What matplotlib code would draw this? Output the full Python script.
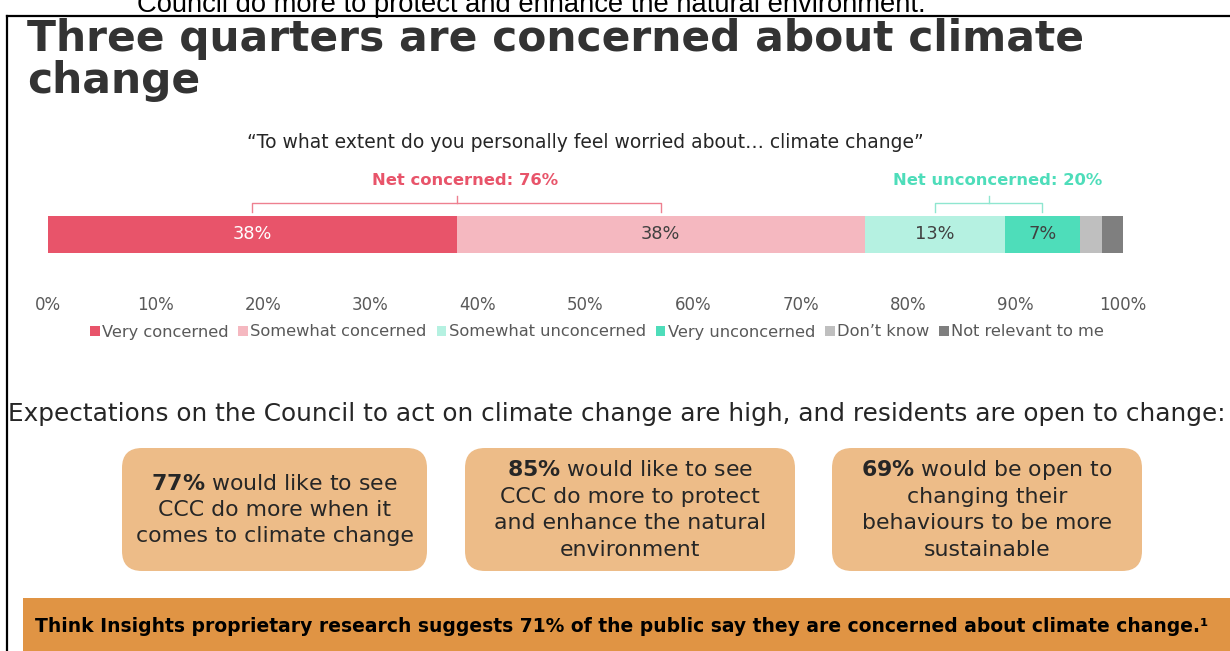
import matplotlib.pyplot as plt
from matplotlib.patches import FancyBboxPatch, Rectangle
from matplotlib.lines import Line2D

plt.rcParams['font.family'] = ['DejaVu Sans']

# Survey responses (percent)
categories = ["Very concerned", "Somewhat concerned", "Somewhat unconcerned",
              "Very unconcerned", "Don\u2019t know", "Not relevant to me"]
values = [38, 38, 13, 7, 2, 2]
colors = ["#E8546A", "#F5B8C0", "#B5F1E1", "#4EDDBA", "#BFBFBF", "#7F7F7F"]
label_colors = ["white", "#404040", "#404040", "#404040", None, None]
ticks = [0, 10, 20, 30, 40, 50, 60, 70, 80, 90, 100]

# Follow-up findings shown in the boxes
box_pcts = [77, 85, 69]
box_texts = [
    ["{} would like to see", "CCC do more when it", "comes to climate change"],
    ["{} would like to see", "CCC do more to protect", "and enhance the natural", "environment"],
    ["{} would be open to", "changing their", "behaviours to be more", "sustainable"],
]
public_pct = 71

W, H = 1230, 651
fig = plt.figure(figsize=(W / 100, H / 100), dpi=100)

# background layer in pixel units
bg = fig.add_axes([0, 0, 1, 1])
bg.set_xlim(0, W)
bg.set_ylim(H, 0)
bg.axis("off")

bg.text(531, 12, "Council do more to protect and enhance the natural environment.",
        family="Liberation Sans", fontsize=19.7, ha="center", va="baseline", color="black")

# frame
bg.add_line(Line2D([7, 7], [16, H], color="black", lw=1.6))
bg.add_line(Line2D([7, W], [16, 16], color="black", lw=1.6))

bg.text(27, 51, "Three quarters are concerned about climate", fontsize=30.5,
        fontweight="bold", color="#333333", va="baseline")
bg.text(27, 93, "change", fontsize=30.5, fontweight="bold", color="#333333", va="baseline")

bg.text(585, 142, "\u201cTo what extent do you personally feel worried about\u2026 climate change\u201d",
        fontsize=13.5, color="#262626", ha="center", va="center")

bg.text(8, 414, "Expectations on the Council to act on climate change are high, "
        "and residents are open to change:", fontsize=17.8, color="#262626", va="center")

# finding boxes
box_x = [(122, 427), (465, 795), (832, 1142)]
for (x0, x1), pct, lines in zip(box_x, box_pcts, box_texts):
    bg.add_patch(FancyBboxPatch((x0, 448), x1 - x0, 123,
                                boxstyle="round,pad=0,rounding_size=20",
                                facecolor="#EDBC88", edgecolor="none"))
    n = len(lines)
    cy = 510
    step = 26.5
    for i, ln in enumerate(lines):
        txt = ln.format(r"$\bf{%d\%%}$" % pct) if "{}" in ln else ln
        bg.text((x0 + x1) / 2, cy + (i - (n - 1) / 2) * step, txt, fontsize=15.8,
                color="#262626", ha="center", va="center")

# bottom banner
bg.add_patch(Rectangle((23, 598), W - 23, H - 598, facecolor="#E09444", edgecolor="none"))
bg.text(35, 627, "Think Insights proprietary research suggests %d%% of the public say "
        "they are concerned about climate change.\u00b9" % public_pct,
        fontsize=13.5, fontweight="bold", color="black", va="center")

# stacked bar
ax = fig.add_axes([48 / W, 1 - 290 / H, 1075 / W, 130 / H])
ax.set_xlim(0, 100)
ax.set_ylim(-1.5, 2.01)
left = 0
handles = []
for cat, v, c, lc in zip(categories, values, colors, label_colors):
    b = ax.barh(0, v, left=left, height=1, color=c, label=cat)
    handles.append(b)
    if lc is not None:
        ax.text(left + v / 2, 0, "%d%%" % v, ha="center", va="center",
                fontsize=12.8, color=lc)
    left += v

starts = [sum(values[:i]) for i in range(len(values))]


def bracket(i0, i1, color, text, tcolor):
    a = starts[i0] + values[i0] / 2
    b = starts[i1] + values[i1] / 2
    mid = starts[i1] if values[i0] == values[i1] else (a + b) / 2
    ax.plot([a, a, b, b], [0.61, 0.85, 0.85, 0.61], color=color, lw=1, clip_on=False)
    ax.plot([mid, mid], [0.85, 1.04], color=color, lw=1, clip_on=False)
    ax.text(mid + 0.8, 1.45, text, ha="center", va="center", fontsize=11.8,
            fontweight="bold", color=tcolor)


bracket(0, 1, "#EE8090", "Net concerned: %d%%" % (values[0] + values[1]), "#E8546A")
bracket(2, 3, "#8FE6D0", "Net unconcerned: %d%%" % (values[2] + values[3]), "#4EDDBA")

ax.set_xticks(ticks)
ax.set_xticklabels(["%d%%" % t for t in ticks])
ax.tick_params(axis="x", length=0, pad=4, labelsize=12, labelcolor="#595959")
ax.set_yticks([])
for s in ax.spines.values():
    s.set_visible(False)
ax.patch.set_alpha(0)

fig.legend(handles=handles, loc="center", bbox_to_anchor=(597 / W, 1 - 332 / H),
           ncol=6, frameon=False, fontsize=11.7, handlelength=0.6, handleheight=0.6,
           handletextpad=0.15, columnspacing=0.6, labelcolor="#595959", borderpad=0)

fig.savefig("out.png", dpi=100)
